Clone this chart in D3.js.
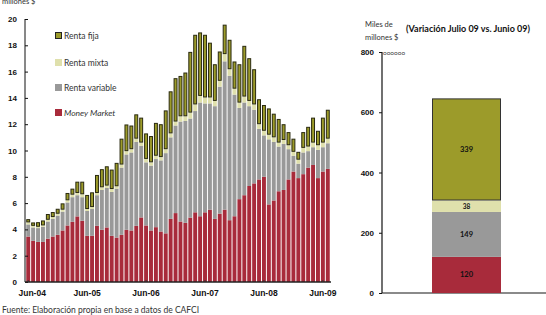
<!DOCTYPE html>
<html>
<head>
<meta charset="utf-8">
<script src="https://cdn.jsdelivr.net/npm/d3@7"></script>
<style>
  body { margin: 0; background: #fff; }
  svg { font-family: Lato, "Open Sans", sans-serif; }
</style>
</head>
<body>
<svg id="chart" width="546" height="315"></svg>
<script>
// monthly stock, Jun-04 .. Jul-09 (miles de millones $)
var moneyMarket = [3.46,3.13,3.05,3.05,3.3,3.46,3.59,3.92,4.3,4.58,4.99,4.66,3.51,3.51,4.27,3.97,4.15,3.51,3.38,3.59,3.97,3.92,4.27,4.91,4.3,3.92,4.17,3.84,3.7,4.8,5.24,4.6,
  4.5,4.9,5.3,5.0,5.3,5.5,4.8,5.2,5.5,4.7,5.0,6.3,6.6,7.3,7.5,7.8,8.0,5.9,6.2,6.9,
  7.0,7.8,8.4,7.9,8.2,8.7,8.9,7.9,8.4,8.6]
var rentaVariable = [0.92,1.02,1.05,1.15,1.3,1.34,1.46,1.43,1.75,1.87,1.61,1.79,1.89,2.04,2.33,3.03,3.0,3.34,3.72,5.11,5.73,5.93,6.38,5.44,4.8,4.93,5.18,5.41,6.1,6.2,6.66,7.6,
  7.75,7.53,7.7,8.65,8.28,8.08,8.57,9.65,11.28,10.98,9.25,6.94,7.05,6.07,5.6,3.85,3.15,4.95,4.45,3.4,
  3.5,2.3,1.2,1.1,1.65,1.25,1.35,2.15,1.85,1.95]
var rentaMixta = [0.15,0.12,0.1,0.1,0.13,0.14,0.14,0.15,0.16,0.19,0.17,0.22,0.15,0.15,0.17,0.2,0.18,0.22,0.18,0.23,0.25,0.25,0.25,0.25,0.26,0.25,0.25,0.25,0.3,0.3,0.3,0.4,
  0.35,0.45,0.5,0.5,0.45,0.45,0.4,0.45,0.55,0.5,0.45,0.4,0.45,0.4,0.4,0.35,0.35,0.35,0.35,0.3,
  0.3,0.3,0.3,0.3,0.35,0.35,0.35,0.35,0.35,0.35]
var rentaFija = [0.25,0.26,0.35,0.38,0.44,0.38,0.38,0.48,0.56,0.46,0.86,0.96,1.07,1.12,1.37,1.38,1.47,1.48,1.78,1.97,2.03,1.8,1.85,1.9,1.94,2.0,2.5,2.5,2.95,3.2,3.3,3.07,
  3.33,4.62,5.3,4.83,4.77,4.17,2.79,2.23,2.24,2.24,2.07,2.92,3.86,3.25,2.68,1.9,1.96,2.0,1.8,1.8,
  1.2,1.0,1.0,0.6,1.2,1.5,1.9,1.1,1.9,2.2]

var tickIndex = [0, 12, 24, 36, 48, 60]
var tickLabels = ["Jun-04", "Jun-05", "Jun-06", "Jun-07", "Jun-08", "Jun-09"]
var yTicks = [0, 2, 4, 6, 8, 10, 12, 14, 16, 18, 20]

// variation chart
var varKeys = ["Money Market", "Renta variable", "Renta mixta", "Renta fija"]
var varValues = [120, 149, 38, 339]
var varTicks = [0, 200, 400, 600, 800]

var keys = ["mm", "rv", "rmx", "rf"]
var names = {mm: "Money Market", rv: "Renta variable", rmx: "Renta mixta", rf: "Renta fija"}
var color = d3.scaleOrdinal().domain(keys).range(["#a82b3b", "#999999", "#dfe0ac", "#9c9b2a"])

var svg = d3.select("#chart")

// ---------- left chart ----------
var data = moneyMarket.map(function(d, i) {
  return {i: i, mm: d, rv: rentaVariable[i], rmx: rentaMixta[i], rf: rentaFija[i]}
})

var x = d3.scaleBand()
  .domain(d3.range(data.length))
  .range([26, 330])
  .paddingInner(0.2)
  .paddingOuter(0.05)

var y = d3.scaleLinear().domain([0, 20]).range([282, 19])

var stacked = d3.stack().keys(keys)(data)

var g = svg.append("g")

g.selectAll("g.layer")
  .data(stacked)
  .enter()
  .append("g")
    .attr("class", "layer")
    .attr("fill", function(d) { return color(d.key) })
    .attr("stroke", function(d) { return d.key == "rf" ? "#2a2a10" : "none" })
    .attr("stroke-width", 1)
  .selectAll("rect")
  .data(function(d) { return d })
  .enter()
  .append("rect")
    .attr("x", function(d, i) { return x(i) })
    .attr("width", x.bandwidth())
    .attr("y", function(d) { return y(d[1]) })
    .attr("height", function(d) { return Math.max(0, y(d[0]) - y(d[1])) })
    .each(function(d) {
      var k = d3.select(this.parentNode).datum().key
      if (k == "rf") {
        d3.select(this)
          .attr("x", x(d.data.i) + 0.5)
          .attr("width", x.bandwidth() - 1)
          .attr("y", y(d[1]) + 0.5)
          .attr("height", Math.max(0, y(d[0]) - y(d[1]) - 1))
      }
    })

// y axis
var yAxis = g.append("g")
  .attr("transform", "translate(25,0)")
  .call(d3.axisLeft(y).tickValues(yTicks).tickSize(-3).tickPadding(8))
yAxis.select(".domain").attr("stroke", "#111").attr("d", "M0," + y(20) + "V" + y(0))
yAxis.selectAll("line").attr("stroke", "#111")
yAxis.selectAll("text").attr("font-size", 8).attr("font-weight", "bold").attr("fill", "#111")

// x axis
var xAxis = g.append("g")
  .attr("transform", "translate(0," + y(0) + ")")
  .call(d3.axisBottom(x).tickValues(tickIndex).tickSize(-2).tickPadding(8)
    .tickFormat(function(d) { return tickLabels[tickIndex.indexOf(d)] }))
xAxis.select(".domain").attr("stroke", "#222").attr("stroke-width", 1.5).attr("d", "M25,0H331")
xAxis.selectAll("line").attr("stroke", "#333")
xAxis.selectAll("text").attr("font-size", 8.5).attr("font-weight", "bold").attr("fill", "#111")
xAxis.selectAll(".tick").filter(function(d) { return d == 0 })
  .select("text").attr("dx", 4)

// unit label (cut at top, as in the source)
svg.append("text").attr("x", 2).attr("y", 4).attr("font-size", 7.5)
  .attr("fill", "#333").text("millones $")

// legend
var legendOrder = ["rf", "rmx", "rv", "mm"]
var legendY = [36, 63, 88, 113]
var legend = svg.append("g")
legendOrder.forEach(function(k, i) {
  legend.append("rect")
    .attr("x", k == "rf" ? 55.5 : 55).attr("y", legendY[i] - (k == "rf" ? 3.5 : 4))
    .attr("width", k == "rf" ? 6 : 7).attr("height", k == "rf" ? 6 : 7)
    .attr("fill", color(k))
    .attr("stroke", k == "rf" ? "#222" : "none")
  legend.append("text")
    .attr("x", 64).attr("y", legendY[i] + 3)
    .attr("font-size", 8.5).attr("fill", "#333")
    .attr("font-style", k == "mm" ? "italic" : "normal")
    .text(names[k])
})

// source
svg.append("text").attr("x", 2).attr("y", 313).attr("font-size", 8.5)
  .attr("fill", "#333").text("Fuente: Elaboración propia en base a datos de CAFCI")

// ---------- right chart ----------
var y2 = d3.scaleLinear().domain([0, 800]).range([293, 52])
var vData = [{mm: varValues[0], rv: varValues[1], rmx: varValues[2], rf: varValues[3]}]
var vStack = d3.stack().keys(keys)(vData)

var r = svg.append("g")
r.append("line").attr("x1", 382).attr("x2", 546).attr("y1", y2(0)).attr("y2", y2(0))
  .attr("stroke", "#8a8a8a").attr("stroke-width", 2)

r.selectAll("rect.seg")
  .data(vStack)
  .enter()
  .append("rect")
    .attr("class", "seg")
    .attr("x", function(d) { return d.key == "rf" ? 432.5 : 432 })
    .attr("width", function(d) { return d.key == "rf" ? 68 : 69 })
    .attr("y", function(d) { return y2(d[0][1]) + (d.key == "rf" ? 0.5 : 0) })
    .attr("height", function(d) { return y2(d[0][0]) - y2(d[0][1]) - (d.key == "rf" ? 1 : 0) })
    .attr("fill", function(d) { return color(d.key) })
    .attr("stroke", function(d) { return d.key == "rf" ? "#333" : "none" })

r.selectAll("text.val")
  .data(vStack)
  .enter()
  .append("text")
    .attr("class", "val")
    .attr("x", 466.5)
    .attr("y", function(d) { return (y2(d[0][0]) + y2(d[0][1])) / 2 + 2.5 })
    .attr("text-anchor", "middle")
    .attr("font-size", function(d) { return d.key == "rmx" ? 6.5 : 7.5 })
    .attr("font-weight", "bold")
    .attr("fill", "#111")
    .text(function(d) { return d[0].data[d.key] })

var y2Axis = r.append("g")
  .attr("transform", "translate(382,0)")
  .call(d3.axisLeft(y2).tickValues(varTicks).tickSize(3).tickPadding(5))
y2Axis.select(".domain").attr("stroke", "#111").attr("stroke-width", 1.2).attr("d", "M0," + y2(800) + "V" + y2(0))
y2Axis.selectAll("line").attr("stroke", "#111")
y2Axis.selectAll("text").attr("font-size", 8).attr("font-weight", "bold").attr("fill", "#111")

// little overprint near the 800 tick
r.append("text").attr("x", 383).attr("y", y2(800) + 2.5).attr("font-size", 6.5)
  .attr("fill", "#444").text("oooooo")

svg.append("text").attr("x", 365).attr("y", 27).attr("font-size", 7.5)
  .attr("fill", "#333").text("Miles de")
svg.append("text").attr("x", 365).attr("y", 40).attr("font-size", 7.5)
  .attr("fill", "#333").text("millones $")
svg.append("text").attr("x", 406).attr("y", 32).attr("font-size", 9)
  .attr("font-weight", "bold").attr("fill", "#111").text("(Variación Julio 09 vs. Junio 09)")
</script>
</body>
</html>
